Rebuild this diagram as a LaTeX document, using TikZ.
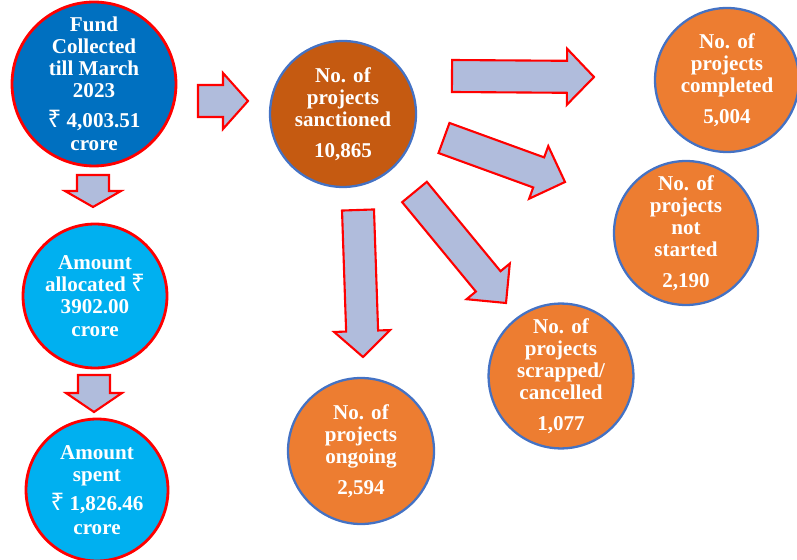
\documentclass[tikz,border=0pt]{standalone}
\usepackage{fontspec}
\setmainfont{Liberation Serif}
\newfontfamily\rupeefont[Scale=1.15]{Noto Sans}
\usetikzlibrary{calc}

\definecolor{fundblue}{HTML}{0070C0}
\definecolor{skyblue}{HTML}{00B0F0}
\definecolor{rust}{HTML}{C55A11}
\definecolor{projorange}{HTML}{ED7D31}
\definecolor{edgeblue}{HTML}{4472C4}
\definecolor{arrowfill}{HTML}{B0BCDC}

\newcommand\rs{{\rupeefont\bfseries ₹}}

% block arrow from tail #2 to tip #3, head length #1 (px)
\newcommand\fatarrow[3][26]{%
  \pgfmathsetlengthmacro\headlen{#1*0.02cm}%
  \coordinate (hb) at ($(#3)!\headlen!(#2)$);
  \draw[arrowbody] ($(#2)!0.32cm!90:(#3)$) -- ($(hb)!0.32cm!90:(#3)$)
    -- ($(hb)!0.56cm!90:(#3)$) -- (#3) -- ($(hb)!0.56cm!-90:(#3)$)
    -- ($(hb)!0.32cm!-90:(#3)$) -- ($(#2)!0.32cm!-90:(#3)$) -- cycle;
}

\begin{document}
\begin{tikzpicture}[x=0.02cm,y=-0.02cm,
  ball/.style={circle, inner sep=0pt, align=center, text=white,
    font=\bfseries\fontsize{12}{12.6}\selectfont},
  fund/.style={ball, draw=red, line width=1.6pt},
  proj/.style={ball, fill=projorange, draw=edgeblue, line width=1.3pt,
    minimum size=2.88cm},
  arrowbody/.style={fill=arrowfill, draw=red, line width=1.2pt}]

\useasboundingbox (0,0) rectangle (797,560);

% money side
\node [fund, fill=fundblue, minimum size=3.28cm] (collected) at (94,84)
  {Fund\\Collected\\till March\\2023\\[4pt]\rs{} 4,003.51\\[1pt]crore};
\node [fund, fill=skyblue, minimum size=2.88cm] (allocated) at (95,296)
  {Amount\\allocated \rs\\3902.00\\crore};
\node [fund, fill=skyblue, minimum size=2.84cm] (spent) at (97,490)
  {Amount\\spent\\[4pt]\rs{} 1,826.46\\[1pt]crore};

% project side
\node [proj, fill=rust, minimum size=2.92cm] (sanctioned) at (343,114)
  {No. of\\projects\\sanctioned\\[5pt]10,865};
\node [proj] (completed) at (727,80) {No. of\\projects\\completed\\[5pt]5,004};
\node [proj] (notstarted) at (686,233)
  {No. of\\projects\\not\\started\\[5pt]2,190};
\node [proj, minimum size=2.84cm] (scrapped) at (561,376)
  {No. of\\projects\\scrapped/\\cancelled\\[5pt]1,077};
\node [proj, minimum size=2.92cm] (ongoing) at (361,451)
  {No. of\\projects\\ongoing\\[5pt]2,594};

% arrow ends
\coordinate (a1) at (198,101);   \coordinate (b1) at (248,101);
\coordinate (a2) at (93,175);    \coordinate (b2) at (93,207);
\coordinate (a3) at (94,375);    \coordinate (b3) at (94,412);
\coordinate (a4) at (452,76);    \coordinate (b4) at (594,77);
\coordinate (a5) at (444,138);   \coordinate (b5) at (565,182);
\coordinate (a6) at (414.5,192); \coordinate (b6) at (506,303);
\coordinate (a7) at (358,210);   \coordinate (b7) at (363,357);

\fatarrow[25]{a1}{b1}
\fatarrow[16]{a2}{b2}
\fatarrow[19]{a3}{b3}
\fatarrow[27]{a4}{b4}
\fatarrow[28]{a5}{b5}
\fatarrow[28]{a6}{b6}
\fatarrow[26]{a7}{b7}
\end{tikzpicture}
\end{document}
